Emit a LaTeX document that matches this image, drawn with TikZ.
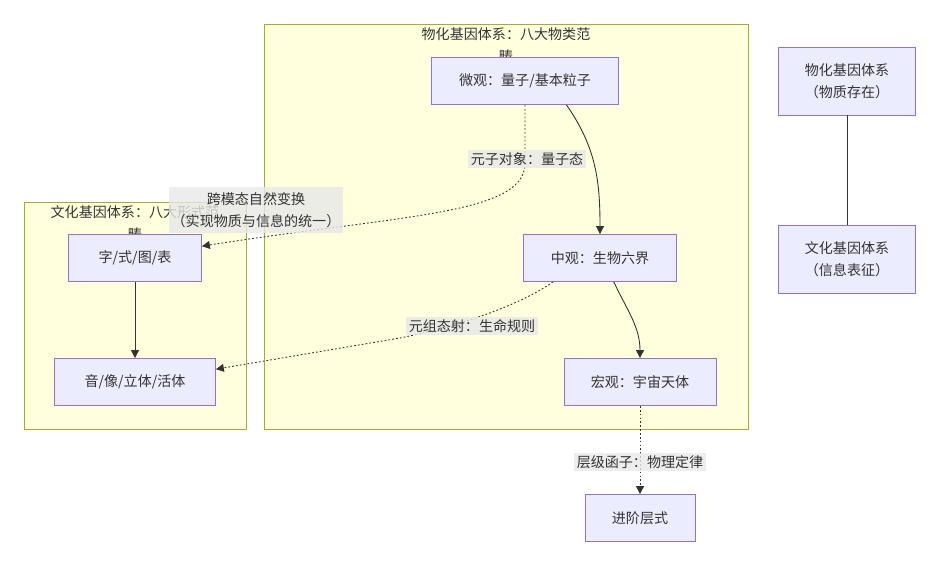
\documentclass[tikz,border=0pt]{standalone}
\usepackage{fontspec}
\setmainfont{Noto Sans CJK SC}
\usetikzlibrary{arrows.meta}
\definecolor{nodefill}{HTML}{ECECFF}
\definecolor{nodeline}{HTML}{9370DB}
\definecolor{clusterfill}{HTML}{FFFFDE}
\definecolor{clusterline}{HTML}{AAAA33}
\definecolor{labelfill}{HTML}{E8E8E8}
\definecolor{textgray}{HTML}{333333}
\tikzset{
  box/.style={draw=nodeline, fill=nodefill, line width=0.5pt, minimum height=0.94cm, align=center, text=textgray, inner sep=2pt},
  cluster/.style={draw=clusterline, fill=clusterfill, line width=0.5pt},
  ctitle/.style={text=textgray, inner sep=0pt, align=center, anchor=north},
  elabel/.style={fill=labelfill, fill opacity=0.8, text opacity=1, text=textgray, inner sep=1.5pt, align=center},
  link/.style={draw=textgray, line width=0.5pt, -{Triangle[length=4.5pt,width=4.5pt]}},
  dotlink/.style={link, dash pattern=on 1pt off 1.2pt},
  plainlink/.style={draw=textgray, line width=0.5pt}
}
\begin{document}
\begin{tikzpicture}[x=0.02cm, y=-0.02cm, font=\fontsize{8}{12.5}\selectfont]
\useasboundingbox (0,0) rectangle (942,567);
% clusters
\draw [cluster] (264,24) rectangle (748,429);
\draw [cluster] (24,202) rectangle (246,429);
\node [ctitle] (mattertitle) at (506,27) {物化基因体系：八大物类范\\畴};
\node [ctitle] (culturetitle) at (135,205) {文化基因体系：八大形式范\\畴};
% nodes
\node [box, minimum width=3.74cm] (micro) at (525,81) {微观：量子/基本粒子};
\node [box, minimum width=3.06cm] (meso) at (600,258) {中观：生物六界};
\node [box, minimum width=3.04cm] (macro) at (640,382) {宏观：宇宙天体};
\node [box, minimum width=2.66cm] (glyph) at (135,258) {字/式/图/表};
\node [box, minimum width=3.22cm] (sound) at (135,382) {音/像/立体/活体};
\node [box, minimum width=2.2cm] (level) at (640,518) {进阶层式};
\node [box, minimum width=2.74cm, minimum height=1.36cm] (matter) at (847,81) {物化基因体系\\（物质存在）};
\node [box, minimum width=2.74cm, minimum height=1.36cm] (culture) at (847,259) {文化基因体系\\（信息表征）};
% connectors
\draw [link] (micro.-30) to[out=-55, in=90] (meso.north);
\draw [link] (meso.-60) to[out=-65, in=90] (macro.north);
\draw [link] (glyph) -- (sound);
\draw [dotlink] (micro.south) -- (525,165) .. controls (522,215) and (400,215) .. (glyph.10);
\draw [dotlink] (meso.-153) .. controls (520,305) and (460,326) .. (400,338) -- (sound.9);
\draw [dotlink] (macro) -- (level);
\draw [plainlink] (matter) -- (culture);
% edge labels
\node [elabel] (quantumlabel) at (527,159) {元子对象：量子态};
\node [elabel] (liferule) at (472,326) {元组态射：生命规则};
\node [elabel] (physlaw) at (640,462) {层级函子：物理定律};
\node [elabel, minimum width=3.36cm, minimum height=0.92cm] (crossmodal) at (256,210) {跨模态自然变换\\（实现物质与信息的统一）};
\end{tikzpicture}
\end{document}
